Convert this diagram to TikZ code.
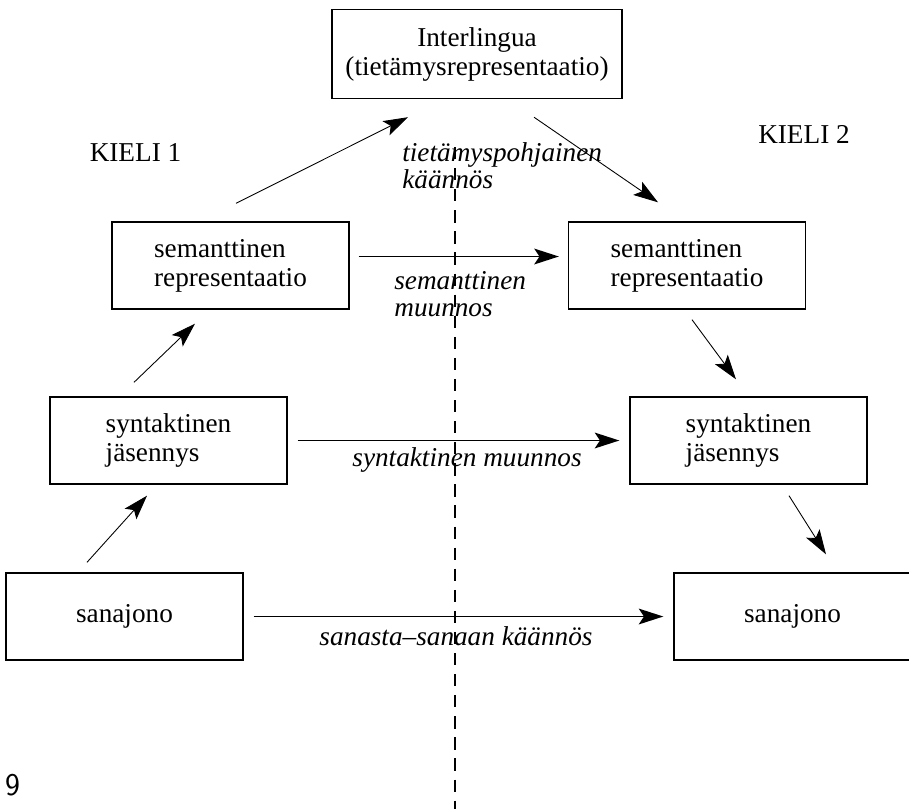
\documentclass[tikz,border=0pt]{standalone}
\usepackage{fontspec}
\setmainfont{Liberation Serif}
\usetikzlibrary{arrows.meta, positioning}

\begin{document}
\begin{tikzpicture}[
    x=0.02cm, y=-0.02cm,
    >={Stealth[length=14pt, width=9pt, inset=3pt]},
    level/.style={rectangle, draw, line width=0.8pt, minimum width=4.74cm, minimum height=1.74cm, align=left, font=\fontsize{15.5}{16.5}\selectfont},
    lbl/.style={inner sep=0pt, align=left, font=\fontsize{15.5}{15.5}\selectfont\itshape},
    lang/.style={inner sep=0pt, font=\fontsize{15.5}{16.5}\selectfont},
    levelarrow/.style={->, line width=0.5pt},
    transfer/.style={->, line width=0.9pt}
]
\useasboundingbox (0,0) rectangle (909,809);

% Interlingua (top)
\node[level, minimum width=5.8cm, minimum height=1.78cm, align=center] (inter) at (477, 54) {Interlingua\\(tietämysrepresentaatio)};

% Language labels
\node[lang, anchor=base] (lang1) at (135.5, 161) {KIELI 1};
\node[lang, anchor=base] (lang2) at (804, 143) {KIELI 2};

% Levels for language 1 (left)
\node[level] (sem1) at (230.5, 265.5) {semanttinen\\representaatio};
\node[level] (syn1) at (168.5, 440.5) {syntaktinen\\jäsennys};
\node[level] (sana1) at (124.5, 616.5) {sanajono};

% Levels for language 2 (right)
\node[level] (sem2) at (687, 265.5) {semanttinen\\representaatio};
\node[level] (syn2) at (748.5, 440.5) {syntaktinen\\jäsennys};
\node[level] (sana2) at (792.5, 616.5) {sanajono};

% Dividing line
\coordinate (divtop) at (455, 147);
\coordinate (divbot) at (455, 809);
\draw[line width=0.6pt, dash pattern=on 7pt off 5pt] (divtop) -- (divbot);

% Analysis (left side, upwards)
\draw[levelarrow] ([shift={(-37.5,-10)}]sana1.north) -- ([shift={(-21.5,11)}]syn1.south);
\draw[levelarrow] ([shift={(-34.5,-14)}]syn1.north) -- ([shift={(-35.5,14)}]sem1.south);
\draw[levelarrow] ([shift={(5.5,-18)}]sem1.north) -- ([shift={(-69,18)}]inter.south);

% Generation (right side, downwards)
\draw[levelarrow] ([shift={(57,18)}]inter.south) -- ([shift={(-29,-19)}]sem2.north);
\draw[levelarrow] ([shift={(5,10)}]sem2.south) -- ([shift={(-12.5,-17)}]syn2.north);
\draw[levelarrow] ([shift={(40.5,11)}]syn2.south) -- ([shift={(33.5,-18)}]sana2.north);

% Transfer arrows
\draw[transfer] ([shift={(9,-9)}]sem1.east) -- ([shift={(-9,-9)}]sem2.west);
\draw[transfer] ([shift={(10,0)}]syn1.east) -- ([shift={(-10,0)}]syn2.west);
\draw[transfer] ([shift={(10,0)}]sana1.east) -- ([shift={(-10,0)}]sana2.west);

% Transfer labels
\node[lbl, anchor=west] (tietlbl) at (402, 166) {tietämyspohjainen\\käännös};
\node[lbl, anchor=west] (semlbl) at (394, 294) {semanttinen\\muunnos};
\node[lbl, anchor=base] (synlbl) at (467, 466) {syntaktinen muunnos};
\node[lbl, anchor=base] (sanalbl) at (456, 645) {sanasta{\upshape\textendash}sanaan käännös};

% Page number
\node[lang, anchor=base, font=\fontsize{18}{20}\selectfont\sffamily] (pagenum) at (12.5, 795) {9};

\end{tikzpicture}
\end{document}
